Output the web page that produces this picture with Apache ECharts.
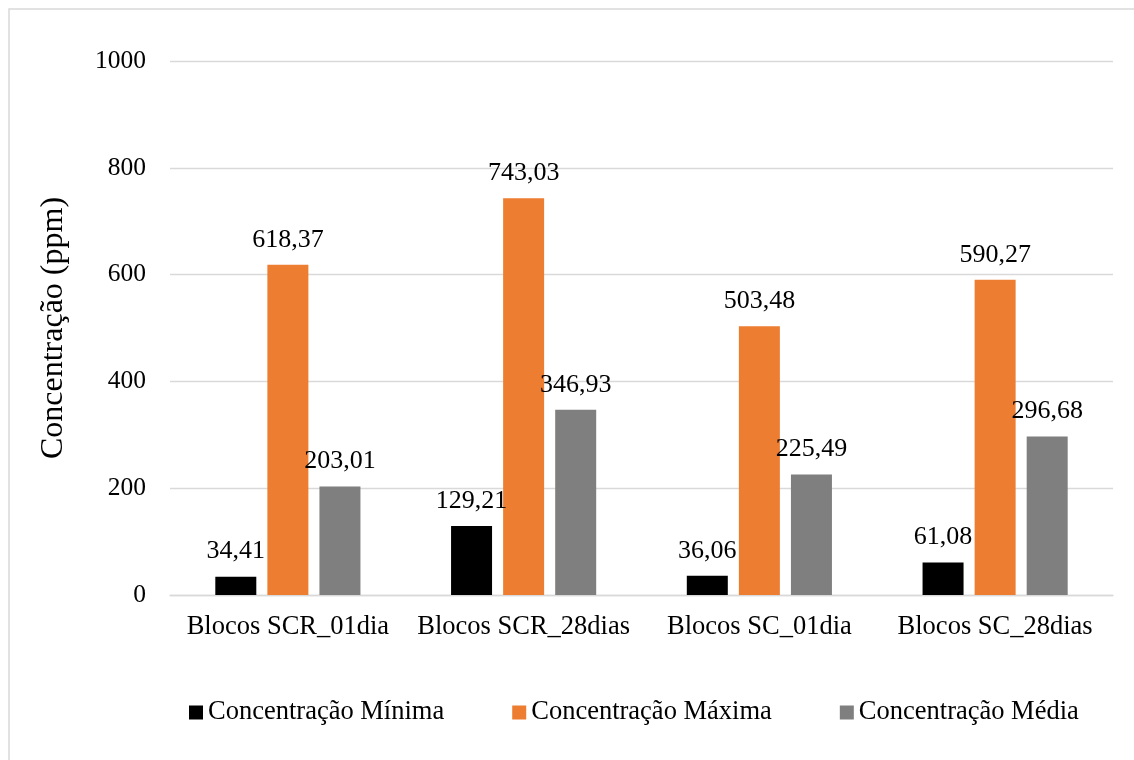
<!DOCTYPE html>
<html>
<head>
<meta charset="utf-8">
<title>Concentração (ppm)</title>
<script src="https://cdn.jsdelivr.net/npm/echarts@6/dist/echarts.min.js"></script>
<style>
  html, body { margin: 0; padding: 0; background: #ffffff; }
  #chart { width: 1134px; height: 760px; }
</style>
</head>
<body>
<div id="chart"></div>
<script>
// Blocks and measured concentrations (ppm)
const categories = ['Blocos SCR_01dia', 'Blocos SCR_28dias', 'Blocos SC_01dia', 'Blocos SC_28dias'];
const seriesNames = ['Concentração Mínima', 'Concentração Máxima', 'Concentração Média'];
const minValues = [34.41, 129.21, 36.06, 61.08];
const maxValues = [618.37, 743.03, 503.48, 590.27];
const meanValues = [203.01, 346.93, 225.49, 296.68];
const yTicks = [0, 200, 400, 600, 800, 1000];

const colors = ['#000000', '#ED7D31', '#7F7F7F'];
const FONT = '"Liberation Serif", "Times New Roman", serif';

const chart = echarts.init(document.getElementById('chart'), null, { renderer: 'canvas' });

function fmt(p) {
  return p.value.toFixed(2).replace('.', ',');
}

function barSeries(name, data, color) {
  return {
    name: name,
    type: 'bar',
    data: data,
    barWidth: 41,
    barGap: '27%',
    itemStyle: { color: color },
    label: {
      show: true,
      position: 'top',
      distance: 12,
      formatter: fmt,
      fontFamily: FONT,
      fontSize: 26,
      color: '#000000'
    },
    emphasis: { disabled: true },
    animation: false
  };
}

chart.setOption({
  backgroundColor: '#ffffff',
  animation: false,
  graphic: [{
    type: 'rect',
    shape: { x: 9, y: 9, width: 1200, height: 800 },
    style: { fill: 'none', stroke: '#D9D9D9', lineWidth: 1.5 },
    silent: true
  }],
  grid: { left: 170, right: 21, top: 61, bottom: 165, containLabel: false },
  legend: {
    data: seriesNames,
    left: 189,
    top: 699,
    padding: 0,
    itemWidth: 14,
    itemHeight: 14,
    itemGap: 68,
    icon: 'rect',
    textStyle: { fontFamily: FONT, fontSize: 26.5, color: '#000000' },
    selectedMode: false
  },
  xAxis: {
    type: 'category',
    data: categories,
    axisLine: { show: true, lineStyle: { color: '#D9D9D9', width: 1.3 } },
    axisTick: { show: false },
    axisLabel: {
      fontFamily: FONT, fontSize: 26.5, color: '#000000', margin: 19, interval: 0
    }
  },
  yAxis: {
    type: 'value',
    min: yTicks[0],
    max: yTicks[yTicks.length - 1],
    interval: yTicks[1] - yTicks[0],
    name: 'Concentração (ppm)',
    nameLocation: 'middle',
    nameGap: 100,
    nameRotate: 90,
    nameTextStyle: { fontFamily: FONT, fontSize: 32, color: '#000000' },
    axisLine: { show: false },
    axisTick: { show: false },
    splitLine: { lineStyle: { color: '#D9D9D9', width: 1.3 } },
    axisLabel: {
      fontFamily: FONT, fontSize: 25.5, color: '#000000', margin: 24,
      formatter: function (v) { return String(v); }
    }
  },
  series: [
    barSeries(seriesNames[0], minValues, colors[0]),
    barSeries(seriesNames[1], maxValues, colors[1]),
    barSeries(seriesNames[2], meanValues, colors[2])
  ]
});
</script>
</body>
</html>
